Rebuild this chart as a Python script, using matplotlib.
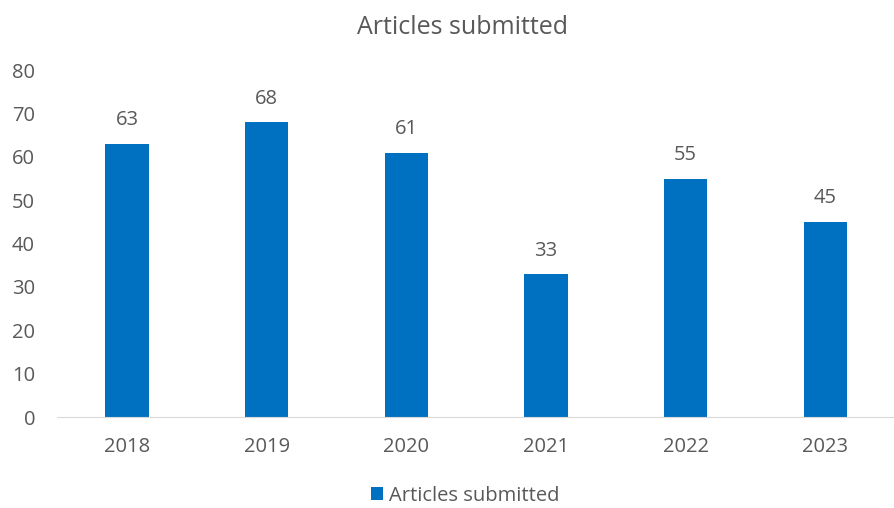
import matplotlib.pyplot as plt
from matplotlib.patches import Patch

years = ["2018", "2019", "2020", "2021", "2022", "2023"]
articles = [63, 68, 61, 33, 55, 45]

BLUE = "#0070C0"
GREY = "#595959"

plt.rcParams['font.family'] = ['Open Sans', 'DejaVu Sans']

fig = plt.figure(figsize=(8.95, 5.08), dpi=100)
ax = fig.add_axes([0.064, 0.179, 0.936, 0.683])

x = range(len(years))
bars = ax.bar(x, articles, width=0.31, color=BLUE)

# Value labels above each bar
for xi, v in zip(x, articles):
    ax.text(xi, v + 5.4, str(v), ha='center', va='center', fontsize=14.5, color=GREY)

ax.set_xlim(-0.5, len(years) - 0.5)
ax.set_ylim(0, 80)
ax.set_yticks(range(0, 81, 10))
ax.set_xticks(list(x))
ax.set_xticklabels(years)
ax.tick_params(axis='both', length=0, labelsize=14.5, colors=GREY)
ax.tick_params(axis='y', pad=16)
ax.tick_params(axis='x', pad=14)

for side in ['top', 'right', 'left']:
    ax.spines[side].set_visible(False)
ax.spines['bottom'].set_color('#D9D9D9')

fig.text(0.517, 0.945, "Articles submitted", ha='center', va='center', fontsize=18, color=GREY)

handle = Patch(facecolor=BLUE, edgecolor='none')
fig.legend([handle], ["Articles submitted"], loc='center', bbox_to_anchor=(0.52, 0.024),
           frameon=False, fontsize=14.5, labelcolor=GREY, handlelength=0.6, handleheight=0.6,
           handletextpad=0.3, borderpad=0.2)

fig.savefig("out.png", dpi=100)
